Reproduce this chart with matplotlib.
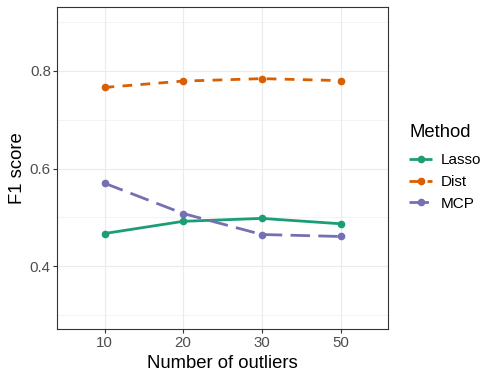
import matplotlib
matplotlib.use("Agg")
import matplotlib.pyplot as plt

# data
outliers = ["10", "20", "30", "50"]
methods = ["Lasso", "Dist", "MCP"]
lasso = [0.467, 0.492, 0.498, 0.487]
dist = [0.766, 0.779, 0.784, 0.780]
mcp = [0.570, 0.508, 0.465, 0.461]

colors = {"Lasso": "#1B9E77", "Dist": "#D95F02", "MCP": "#7570B3"}
dashes = {"Lasso": None, "Dist": (3.5, 3.0), "MCP": (7.0, 3.0)}
series = {"Lasso": lasso, "Dist": dist, "MCP": mcp}

plt.rcParams["font.family"] = ["Liberation Sans", "DejaVu Sans"]

fig = plt.figure(figsize=(5, 3.8), dpi=100)
ax = fig.add_axes([0.1146, 0.1334, 0.6608, 0.8474])

x = list(range(len(outliers)))
for m in methods:
    line, = ax.plot(x, series[m], color=colors[m], lw=2.0, marker="o",
                    markersize=4.5, label=m, solid_capstyle="butt",
                    dash_capstyle="butt")
    if dashes[m] is not None:
        line.set_dashes(dashes[m])

ax.set_xlim(-0.6, len(outliers) - 1 + 0.6)
ax.set_ylim(0.271, 0.930)
ax.set_xticks(x)
ax.set_xticklabels(outliers)
ax.set_yticks([0.4, 0.6, 0.8])
ax.set_yticklabels(["0.4", "0.6", "0.8"])
ax.set_yticks([0.3, 0.5, 0.7, 0.9], minor=True)

ax.set_axisbelow(True)
ax.grid(True, which="major", color="#EBEBEB", lw=0.8)
ax.grid(True, which="minor", axis="y", color="#EBEBEB", lw=0.4)
ax.tick_params(which="major", length=2.7, width=0.8, color="#333333",
               labelsize=10.8, labelcolor="#4D4D4D", pad=2)
ax.tick_params(which="minor", length=0)
for s in ax.spines.values():
    s.set_color("#333333")
    s.set_linewidth(0.8)

ax.set_xlabel("Number of outliers", fontsize=13.3, labelpad=4)
ax.set_ylabel("F1 score", fontsize=13.3, labelpad=3)

leg = fig.legend(loc="upper left", bbox_to_anchor=(0.806, 0.69),
                 frameon=False, title="Method", fontsize=11,
                 title_fontsize=13.3, handlelength=1.5, handletextpad=0.6,
                 labelspacing=0.5, borderaxespad=0)
leg._legend_box.align = "left"
leg._legend_box.sep = 9

fig.savefig("out.png", dpi=100)
